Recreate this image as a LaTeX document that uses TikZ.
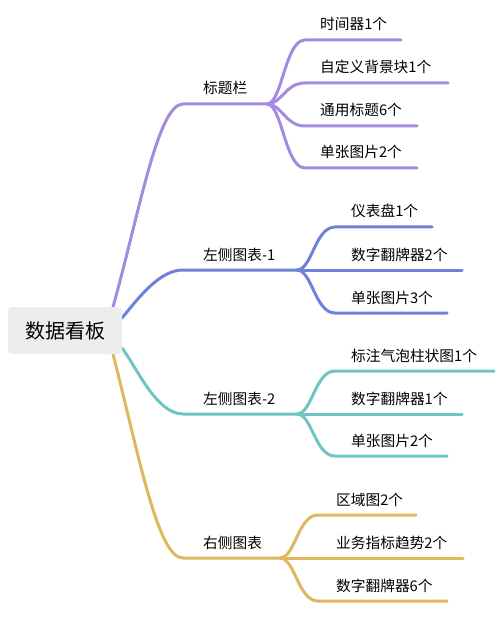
\documentclass[tikz,border=0pt]{standalone}
\usepackage{fontspec}
\setmainfont{Noto Sans CJK SC}
\definecolor{cpur}{HTML}{A48BDF}
\definecolor{cblu}{HTML}{6F81D8}
\definecolor{ctea}{HTML}{70C4C2}
\definecolor{cgol}{HTML}{DFB75E}
\definecolor{cbox}{HTML}{ECEDED}
\begin{document}
\begin{tikzpicture}[x=1pt,y=-1pt,
  conn/.style={line width=3pt,line cap=round},
  lbl/.style={anchor=base west,inner sep=0pt,font=\fontsize{14.7}{16}\selectfont},
  rootbox/.style={fill=cbox,rounded corners=4pt,minimum width=114pt,minimum height=47pt,inner sep=0pt}]
\useasboundingbox (0,0) rectangle (500,617);
% root edge points
\coordinate (r1) at (113,307);
\coordinate (r2) at (122,318);
\coordinate (r3) at (122,348);
\coordinate (r4) at (113,354);
% branch starts, splits
\coordinate (b1) at (183,104); \coordinate (s1) at (267,104);
\coordinate (b2) at (183,270); \coordinate (s2) at (297,270);
\coordinate (b3) at (183,414); \coordinate (s3) at (297,414);
\coordinate (b4) at (183,558); \coordinate (s4) at (280,558);
% root connectors
\draw[conn,cpur] (r1) .. controls (140,210) and (158,104) .. (b1) -- (s1);
\draw[conn,cblu] (r2) .. controls (140,296) and (160,270) .. (b2) -- (s2);
\draw[conn,ctea] (r3) .. controls (136,366) and (156,414) .. (b3) -- (s3);
\draw[conn,cgol] (r4) .. controls (140,460) and (158,558) .. (b4) -- (s4);
% branch labels
\node[lbl] (l1) at (203,94) {标题栏};
\node[lbl] (l2) at (203,260) {左侧图表-1};
\node[lbl] (l3) at (203,404) {左侧图表-2};
\node[lbl] (l4) at (203,548) {右侧图表};
% children branch 1
\coordinate (c11) at (305,40);  \coordinate (e11) at (401,40);
\coordinate (c12) at (305,83);  \coordinate (e12) at (448,83);
\coordinate (c13) at (305,126); \coordinate (e13) at (417,126);
\coordinate (c14) at (305,168); \coordinate (e14) at (417,168);
\foreach \i in {1,2,3,4}
  \draw[conn,cpur] (s1) .. controls +(15,0) and +(-20,0) .. (c1\i) -- (e1\i);
\node[lbl] (t11) at (320,30) {时间器1个};
\node[lbl] (t12) at (320,73) {自定义背景块1个};
\node[lbl] (t13) at (320,116) {通用标题6个};
\node[lbl] (t14) at (320,158) {单张图片2个};
% children branch 2
\coordinate (c21) at (335,227); \coordinate (e21) at (432,227);
\coordinate (c22) at (335,270); \coordinate (e22) at (462,270);
\coordinate (c23) at (335,313); \coordinate (e23) at (447,313);
\foreach \i in {1,2,3}
  \draw[conn,cblu] (s2) .. controls +(15,0) and +(-20,0) .. (c2\i) -- (e2\i);
\node[lbl] (t21) at (351,217) {仪表盘1个};
\node[lbl] (t22) at (351,260) {数字翻牌器2个};
\node[lbl] (t23) at (351,303) {单张图片3个};
% children branch 3
\coordinate (c31) at (335,371); \coordinate (e31) at (494,371);
\coordinate (c32) at (335,414); \coordinate (e32) at (462,414);
\coordinate (c33) at (335,456); \coordinate (e33) at (447,456);
\foreach \i in {1,2,3}
  \draw[conn,ctea] (s3) .. controls +(15,0) and +(-20,0) .. (c3\i) -- (e3\i);
\node[lbl] (t31) at (351,361) {标注气泡柱状图1个};
\node[lbl] (t32) at (351,404) {数字翻牌器1个};
\node[lbl] (t33) at (351,446) {单张图片2个};
% children branch 4
\coordinate (c41) at (318,515); \coordinate (e41) at (416,515);
\coordinate (c42) at (318,558); \coordinate (e42) at (463,558);
\coordinate (c43) at (318,601); \coordinate (e43) at (447,601);
\foreach \i in {1,2,3}
  \draw[conn,cgol] (s4) .. controls +(15,0) and +(-20,0) .. (c4\i) -- (e4\i);
\node[lbl] (t41) at (336,505) {区域图2个};
\node[lbl] (t42) at (336,548) {业务指标趋势2个};
\node[lbl] (t43) at (336,591) {数字翻牌器6个};
% root
\node[rootbox] (root) at (65,330.5) {\fontsize{20}{24}\selectfont 数据看板};
\end{tikzpicture}
\end{document}
